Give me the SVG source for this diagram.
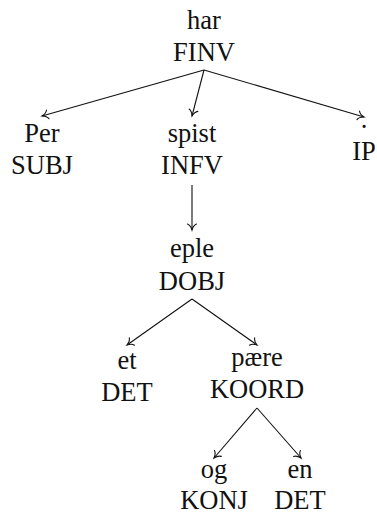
<svg xmlns="http://www.w3.org/2000/svg" width="377" height="515" viewBox="0 0 377 515">
  <style>
    .lbl { font-family: "Liberation Serif", "Times New Roman", serif; font-size: 26.5px; fill: #111; text-anchor: middle; }
    .edge { stroke: #111; stroke-width: 1.1; fill: none; marker-end: url(#to); }
  </style>
  <defs>
    <!-- open curved "to" style arrowhead -->
    <marker id="to" markerUnits="userSpaceOnUse" markerWidth="14" markerHeight="14" viewBox="-8 -7 10 14" refX="0" refY="0" orient="auto">
      <path d="M -6 -4.5 C -5 -2 -2 -0.6 0 0 C -2 0.6 -5 2 -6 4.5" fill="none" stroke="#111" stroke-width="1.1" stroke-linecap="round"/>
    </marker>
  </defs>

  <g id="connectors">
    <line class="edge" x1="204" y1="70" x2="42" y2="116"/>
    <line class="edge" x1="204" y1="70" x2="192" y2="116"/>
    <line class="edge" x1="204" y1="70" x2="364" y2="117"/>
    <line class="edge" x1="192" y1="185" x2="192" y2="230"/>
    <line class="edge" x1="192" y1="299" x2="127" y2="345"/>
    <line class="edge" x1="192" y1="299" x2="257" y2="345"/>
    <line class="edge" x1="257" y1="408" x2="214" y2="458"/>
    <line class="edge" x1="257" y1="408" x2="301" y2="458"/>
  </g>

  <g id="node-har">
    <text class="lbl" x="204" y="29">har</text>
    <text class="lbl" x="204" y="61">FINV</text>
  </g>
  <g id="node-per">
    <text class="lbl" x="42" y="142">Per</text>
    <text class="lbl" x="42" y="174">SUBJ</text>
  </g>
  <g id="node-spist">
    <text class="lbl" x="192" y="142">spist</text>
    <text class="lbl" x="192" y="174">INFV</text>
  </g>
  <g id="node-punct">
    <text class="lbl" x="364" y="128">.</text>
    <text class="lbl" x="364" y="160">IP</text>
  </g>
  <g id="node-eple">
    <text class="lbl" x="192" y="257">eple</text>
    <text class="lbl" x="192" y="290">DOBJ</text>
  </g>
  <g id="node-et">
    <text class="lbl" x="127" y="369">et</text>
    <text class="lbl" x="127" y="401">DET</text>
  </g>
  <g id="node-paere">
    <text class="lbl" x="257" y="366">pære</text>
    <text class="lbl" x="257" y="398">KOORD</text>
  </g>
  <g id="node-og">
    <text class="lbl" x="214" y="478">og</text>
    <text class="lbl" x="214" y="509">KONJ</text>
  </g>
  <g id="node-en">
    <text class="lbl" x="300" y="478">en</text>
    <text class="lbl" x="300" y="509">DET</text>
  </g>
</svg>
